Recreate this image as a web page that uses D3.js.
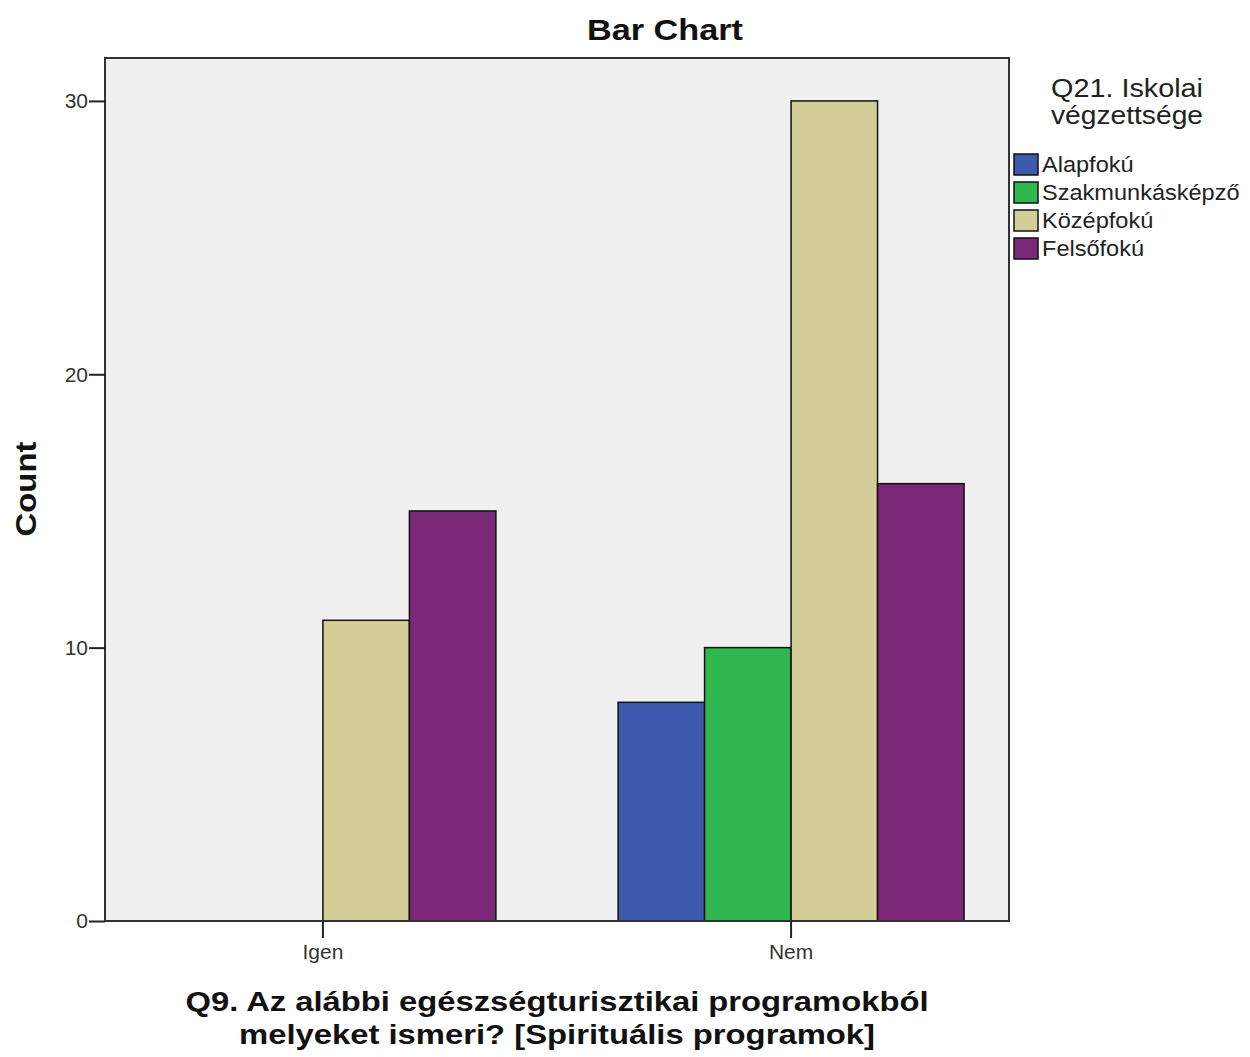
<!DOCTYPE html>
<html>
<head>
<meta charset="utf-8">
<script src="https://cdn.jsdelivr.net/npm/d3@7"></script>
<style>
  html, body { margin: 0; padding: 0; background: #ffffff; }
  text { font-family: "Liberation Sans", Arial, sans-serif; }
</style>
</head>
<body>
<svg id="chart" width="1250" height="1057"></svg>
<script>
const categories = ["Igen", "Nem"];
const seriesNames = ["Alapfokú", "Szakmunkásképző", "Középfokú", "Felsőfokú"];
const seriesColors = ["#3d59ab", "#30b74d", "#d3ce97", "#7a2877"];
const valuesAlapfoku = [0, 8];
const valuesSzakmunkas = [0, 10];
const valuesKozepfoku = [11, 30];
const valuesFelsofoku = [15, 16];
const yTicks = [0, 10, 20, 30];
const chartTitle = "Bar Chart";
const yTitle = "Count";
const xTitleLines = ["Q9. Az alábbi egészségturisztikai programokból", "melyeket ismeri? [Spirituális programok]"];
const legendTitleLines = ["Q21. Iskolai", "végzettsége"];

const seriesValues = [valuesAlapfoku, valuesSzakmunkas, valuesKozepfoku, valuesFelsofoku];

const svg = d3.select("#chart");
const plot = { left: 105, top: 58, right: 1009, bottom: 921 };

const x0 = d3.scaleBand().domain(categories).range([plot.left, plot.right])
  .paddingInner(0.261).paddingOuter(0.096);
const x1 = d3.scaleBand().domain(seriesNames).range([0, x0.bandwidth()]).padding(0);
const y = d3.scaleLinear().domain([0, 31.57]).range([plot.bottom, plot.top]);
const color = d3.scaleOrdinal().domain(seriesNames).range(seriesColors);

// background
svg.append("rect").attr("x", plot.left).attr("y", plot.top)
  .attr("width", plot.right - plot.left).attr("height", plot.bottom - plot.top)
  .attr("fill", "#f0f0f0");

// bars
const data = [];
categories.forEach((c, ci) => seriesNames.forEach((s, si) => {
  data.push({ cat: c, series: s, value: seriesValues[si][ci] });
}));
svg.append("g").selectAll("rect").data(data.filter(d => d.value > 0)).join("rect")
  .attr("x", d => x0(d.cat) + x1(d.series))
  .attr("y", d => y(d.value))
  .attr("width", x1.bandwidth())
  .attr("height", d => y(0) - y(d.value))
  .attr("fill", d => color(d.series))
  .attr("stroke", "#111")
  .attr("stroke-width", 1.5);

// frame
svg.append("rect").attr("x", plot.left).attr("y", plot.top)
  .attr("width", plot.right - plot.left).attr("height", plot.bottom - plot.top)
  .attr("fill", "none").attr("stroke", "#333").attr("stroke-width", 2);

// y axis
const yAxis = svg.append("g").attr("transform", `translate(${plot.left},0)`)
  .call(d3.axisLeft(y).tickValues(yTicks).tickSize(16).tickPadding(1).tickFormat(d3.format("d")));
yAxis.select(".domain").remove();
yAxis.selectAll(".tick line").attr("stroke", "#222").attr("stroke-width", 2);
yAxis.selectAll(".tick text").attr("font-size", 21).attr("fill", "#333")
  .attr("font-family", "Liberation Sans, Arial, sans-serif");

// x axis
const xAxis = svg.append("g").attr("transform", `translate(0,${plot.bottom})`)
  .call(d3.axisBottom(x0).tickSize(17).tickPadding(6));
xAxis.select(".domain").remove();
xAxis.selectAll(".tick line").attr("stroke", "#222").attr("stroke-width", 2);
xAxis.selectAll(".tick text").attr("font-size", 21).attr("fill", "#333")
  .attr("font-family", "Liberation Sans, Arial, sans-serif");

// title
svg.append("text").attr("x", 665).attr("y", 40).attr("text-anchor", "middle")
  .attr("font-size", 30).attr("font-weight", "bold").attr("fill", "#111")
  .attr("textLength", 156).attr("lengthAdjust", "spacingAndGlyphs")
  .text(chartTitle);

// y title
svg.append("text").attr("transform", "translate(36,489) rotate(-90)")
  .attr("text-anchor", "middle").attr("font-size", 30).attr("font-weight", "bold")
  .attr("fill", "#111").attr("textLength", 95).attr("lengthAdjust", "spacingAndGlyphs")
  .text(yTitle);

// x title
const xtLens = [743, 636];
const xtY = [1011, 1044];
xTitleLines.forEach((t, i) => {
  svg.append("text").attr("x", 557).attr("y", xtY[i]).attr("text-anchor", "middle")
    .attr("font-size", 27).attr("font-weight", "bold").attr("fill", "#111")
    .attr("textLength", xtLens[i]).attr("lengthAdjust", "spacingAndGlyphs")
    .text(t);
});

// legend
const ltY = [97, 124];
legendTitleLines.forEach((t, i) => {
  svg.append("text").attr("x", 1127).attr("y", ltY[i]).attr("text-anchor", "middle")
    .attr("font-size", 25).attr("fill", "#222")
    .attr("textLength", 152).attr("lengthAdjust", "spacingAndGlyphs")
    .text(t);
});
const lg = svg.append("g").selectAll("g").data(seriesNames).join("g")
  .attr("transform", (d, i) => `translate(1014,${154 + i * 28})`);
lg.append("rect").attr("width", 24).attr("height", 21)
  .attr("fill", d => color(d)).attr("stroke", "#111").attr("stroke-width", 1.5);
lg.append("text").attr("x", 28).attr("y", 18).attr("font-size", 22).attr("fill", "#222")
  .text(d => d)
  .each(function () {
    const w = this.getComputedTextLength();
    d3.select(this).attr("textLength", w * 1.07).attr("lengthAdjust", "spacingAndGlyphs");
  });
</script>
</body>
</html>
